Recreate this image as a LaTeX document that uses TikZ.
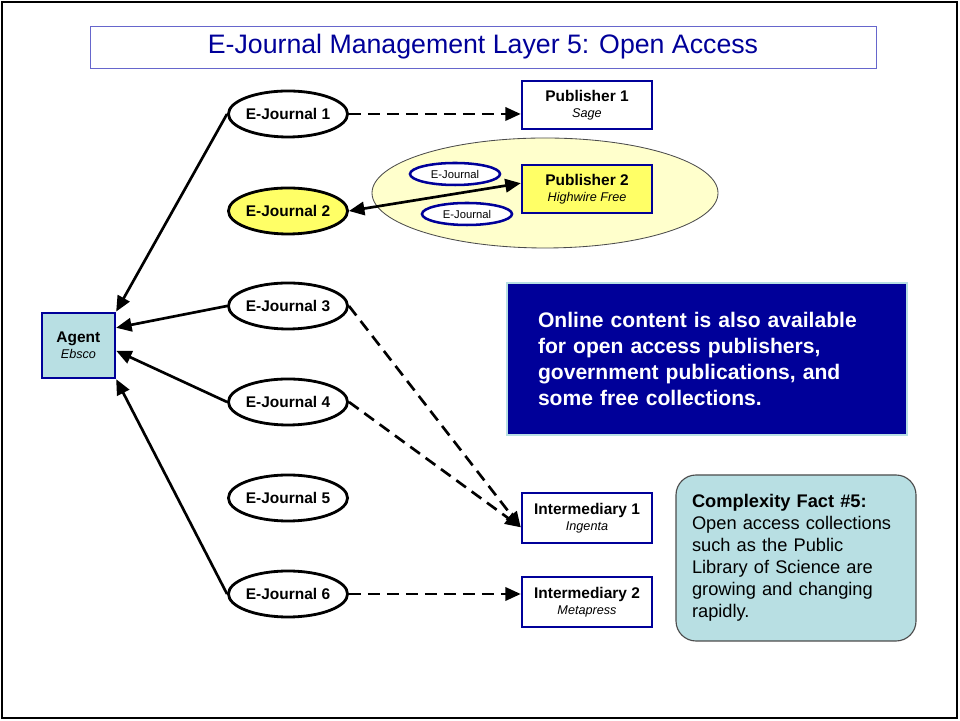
\documentclass[tikz,border=0pt]{standalone}
\usepackage{fontspec}
\setmainfont{Liberation Sans}
\usetikzlibrary{positioning}
\usetikzlibrary{arrows.meta,shapes.geometric}

\definecolor{slideblue}{HTML}{000099}
\definecolor{titleline}{HTML}{6666CC}
\definecolor{paleblue}{HTML}{B8DFE3}
\definecolor{paleyellow}{HTML}{FFFFCC}
\definecolor{brightyellow}{HTML}{FFFF66}

\newcommand{\srclabel}[2]{{\fontsize{11}{13}\selectfont\bfseries #1}\\[-1pt]{\fontsize{9}{11}\selectfont\itshape #2}}

\begin{document}
\begin{tikzpicture}[
  journal/.style={ellipse,draw,line width=2pt,fill=white,minimum width=2.95cm,minimum height=1.15cm,inner sep=0pt,font=\fontsize{11}{13}\selectfont\bfseries},
  copyjournal/.style={ellipse,draw=slideblue,line width=1.8pt,fill=white,minimum width=2.25cm,minimum height=0.55cm,inner sep=0pt,font=\fontsize{8}{10}\selectfont},
  source/.style={rectangle,draw=slideblue,line width=1.8pt,fill=white,minimum width=3.25cm,minimum height=1.2cm,align=center,inner sep=1pt},
  link/.style={-{Triangle[length=11pt,width=9.5pt]},line width=1.9pt},
  offer/.style={link,dash pattern=on 8.5pt off 5pt}]
\useasboundingbox (0,0) rectangle (24,18.025);
\draw[line width=1.5pt] (0.06,0.08) rectangle (23.93,17.97);

\node[draw=titleline,line width=0.6pt,minimum width=19.65cm,minimum height=1.05cm,text=slideblue,font=\fontsize{19}{22}\selectfont] (title) at (12.075,16.85) {E-Journal Management Layer 5: Open Access};

% free access cloud
\node[ellipse,draw=black!70,line width=0.6pt,fill=paleyellow,minimum width=8.65cm,minimum height=2.75cm] (cloud) at (13.625,13.2) {};
\node[copyjournal] (copyA) at (11.375,13.675) {E-Journal};
\node[copyjournal] (copyB) at (11.675,12.675) {E-Journal};

\node[journal] (ej1) at (7.2,15.175) {E-Journal 1};
\node[journal,fill=brightyellow] (ej2) at (7.2,12.75) {E-Journal 2};
\node[journal] (ej3) at (7.2,10.375) {E-Journal 3};
\node[journal] (ej4) at (7.2,7.975) {E-Journal 4};
\node[journal] (ej5) at (7.2,5.575) {E-Journal 5};
\node[journal] (ej6) at (7.2,3.175) {E-Journal 6};

\node[source,fill=paleblue,minimum width=1.825cm,minimum height=1.625cm] (agent) at (1.96,9.39) {\srclabel{Agent}{Ebsco}};

\node[source] (pub1) at (14.675,15.4) {\srclabel{Publisher 1}{Sage}};
\node[source,fill=brightyellow] (pub2) at (14.675,13.3) {\srclabel{Publisher 2}{Highwire Free}};
\node[source,minimum height=1.25cm] (int1) at (14.675,5.075) {\srclabel{Intermediary 1}{Ingenta}};
\node[source,minimum height=1.25cm] (int2) at (14.675,2.975) {\srclabel{Intermediary 2}{Metapress}};

\node[rectangle,fill=slideblue,draw=paleblue,line width=1.5pt,minimum width=10cm,minimum height=3.8cm,text width=8.45cm,align=left,text=white,font=\fontsize{15}{18.3}\selectfont\bfseries] (note) at (17.675,9.05) {Online content is also available\\ for open access publishers,\\ government publications, and\\ some free collections.};

\node[rectangle,rounded corners=0.5cm,fill=paleblue,draw=black!70,line width=0.8pt,minimum width=6cm,minimum height=4.15cm,text width=5.2cm,align=left,font=\fontsize{13}{15.7}\selectfont] (fact) at (19.9,4.075) {\textbf{Complexity Fact \#5:}\\ Open access collections\\ such as the Public\\ Library of Science are\\ growing and changing\\ rapidly.};

% journals to agent
\draw[link] (ej1.west) -- (agent.north east);
\draw[link] (ej3.west) -- (agent.25);
\draw[link] (ej4.west) -- (agent.-8);
\draw[link] (ej6.west) -- (agent.south east);

% journals to publishers
\draw[offer] (ej1.east) -- (ej1.east -| pub1.west);
\draw[line width=1.9pt,{Triangle[length=11pt,width=9.5pt]}-{Triangle[length=11pt,width=9.5pt]}] (ej2.east) -- (pub2.175);
\draw[offer] (ej3.east) -- (int1.188);
\draw[offer] (ej4.east) -- (int1.188);
\draw[offer] (ej6.east) -- (ej6.east -| int2.west);
\end{tikzpicture}
\end{document}
